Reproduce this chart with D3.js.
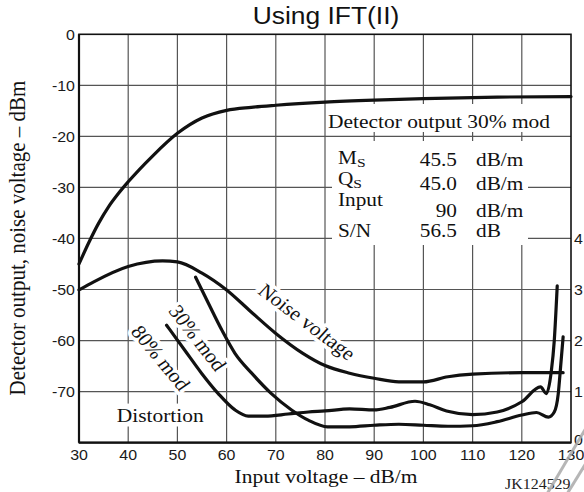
<!DOCTYPE html>
<html>
<head>
<meta charset="utf-8">
<script src="https://cdn.jsdelivr.net/npm/d3@7"></script>
<style>
  html, body { margin: 0; padding: 0; background: #fff; }
  svg { display: block; }
</style>
</head>
<body>
<svg id="chart" width="584" height="492"></svg>
<script>
// ---- data ----
const xTicks = [30, 40, 50, 60, 70, 80, 90, 100, 110, 120, 130];
const yTicks = [0, -10, -20, -30, -40, -50, -60, -70];
const yTickLabels = ["0", "-10", "-20", "-30", "-40", "-50", "-60", "-70"];
const rightTicks = [0, 1, 2, 3, 4];

// Detector output, 30% mod (dBm) vs input voltage (dB/m)
const detectorX = [30, 32, 34, 36, 38, 40, 45, 50, 55, 60, 65, 70, 80, 90, 100, 115, 130];
const detectorY = [-45, -40.8, -37.0, -33.8, -31.2, -28.9, -23.8, -19.4, -16.4, -14.9, -14.3, -13.9, -13.3, -12.9, -12.6, -12.3, -12.2];

// Noise voltage
const noiseX = [30, 33, 40, 47, 50, 55, 60, 65, 70, 75.5, 80, 85, 90, 95, 100, 105, 110, 120, 128.4];
const noiseY = [-50.1, -48.5, -45.5, -44.4, -44.6, -46.8, -50.1, -54.4, -58.6, -62.5, -64.9, -66.4, -67.4, -68.1, -68.1, -67.1, -66.6, -66.3, -66.3];

// Distortion, 80% mod
const mod80X = [47.8, 51.5, 54.9, 58.3, 61.7, 64.4, 67.8, 72.5, 76.6, 80, 85, 90, 93.2, 98.3, 101.3, 104.7, 110, 115, 120, 123.8, 125.0, 126.0, 126.6, 127.2];
const mod80Y = [-57.0, -61.9, -66.4, -70.4, -73.6, -74.8, -74.8, -74.4, -74.0, -73.8, -73.4, -73.6, -73.1, -71.9, -72.6, -73.8, -74.5, -74.0, -72.0, -69.1, -70.4, -66.0, -60.0, -49.3];

// Distortion, 30% mod
const mod30X = [53.7, 56.3, 59, 61.7, 65.1, 69.1, 73.2, 76.6, 80.5, 85, 90, 95, 100, 105, 110, 115, 120, 123, 125.4, 126.6, 127.4, 127.9, 128.4];
const mod30Y = [-47.6, -52.7, -57.9, -62.5, -66.4, -70.4, -73.6, -75.6, -76.9, -76.9, -76.6, -76.4, -76.6, -76.8, -76.7, -75.9, -74.6, -74.1, -75.0, -74.0, -70.5, -65.0, -59.3];

// Operating-point table
const tableLabels = ["M", "Q", "Input", "S/N"];
const tableSubs = ["S", "S", "", ""];
const tableValues = ["45.5", "45.0", "90", "56.5"];
const tableUnits = ["dB/m", "dB/m", "dB/m", "dB"];

// ---- layout ----
const SX = 1.1;                 // horizontal text stretch
const svg = d3.select("#chart");
const x = d3.scaleLinear().domain([30, 130]).range([79, 571]);
const y = d3.scaleLinear().domain([0, -80]).range([34.3, 442.6]);
const yRight = d3.scaleLinear().domain([0, 4]).range([y(-80), y(-40)]);

const serif = "'Liberation Serif', 'Times New Roman', serif";
const sans = "'Liberation Sans', Arial, sans-serif";

function place(sel, px, py, rot, sx) {
  return sel.attr("transform", `translate(${px},${py}) scale(${sx || SX},1)` + (rot ? ` rotate(${rot})` : ""));
}

// ---- grid ----
const grid = svg.append("g").attr("stroke", "#555").attr("stroke-width", 1.2);
grid.selectAll("line.v").data(xTicks.slice(1, -1)).join("line")
  .attr("x1", d => x(d)).attr("x2", d => x(d))
  .attr("y1", y(0)).attr("y2", y(-80));
grid.selectAll("line.h").data(yTicks.slice(1)).join("line")
  .attr("x1", x(30)).attr("x2", x(130))
  .attr("y1", d => y(d)).attr("y2", d => y(d));

// ---- table panel (white backing over the grid) ----
svg.append("rect").attr("x", 327).attr("y", 104).attr("width", x(130) - 327).attr("height", 28).attr("fill", "#fff");
svg.append("rect").attr("x", 332).attr("y", 141).attr("width", 196).attr("height", 104).attr("fill", "#fff");

place(svg.append("text"), 328, 127.5)
  .attr("font-family", serif).attr("font-size", 19.5).attr("fill", "#111")
  .text("Detector output 30% mod");

const tfs = 18.5, tsx = 1.15;
const labelBase = [164, 184.5, 206, 237];
const valueBase = [166, 190, 216.5, 237];
tableLabels.forEach((lab, i) => {
  const t = place(svg.append("text"), 338, labelBase[i], 0, tsx)
    .attr("font-family", serif).attr("font-size", tfs).attr("fill", "#111");
  t.append("tspan").text(lab);
  if (tableSubs[i]) t.append("tspan").attr("font-size", 13.5).attr("dy", 3).text(tableSubs[i]);
  place(svg.append("text"), 457, valueBase[i], 0, tsx)
    .attr("font-family", serif).attr("font-size", tfs).attr("fill", "#111")
    .attr("text-anchor", "end").text(tableValues[i]);
  place(svg.append("text"), 476, valueBase[i], 0, tsx)
    .attr("font-family", serif).attr("font-size", tfs).attr("fill", "#111")
    .text(tableUnits[i]);
});

// ---- curve labels ----
function haloLabel(txt, px, py, rot, sw) {
  return place(svg.append("text"), px, py, rot)
    .attr("font-family", serif).attr("font-size", 19.5).attr("fill", "#111")
    .attr("text-anchor", "middle").attr("dy", "0.33em")
    .attr("stroke", "#fff").attr("stroke-width", sw).attr("stroke-linejoin", "round")
    .attr("paint-order", "stroke")
    .text(txt);
}
haloLabel("Noise voltage", 307, 322, 39.6, 7);
haloLabel("30% mod", 197.5, 338, 54.6, 7);
haloLabel("80% mod", 160.5, 358, 53.1, 7);

// "Distortion" on a white box
const dist = place(svg.append("text"), 116.7, 421.7)
  .attr("font-family", serif).attr("font-size", 19.5).attr("fill", "#111")
  .text("Distortion");
const bb = dist.node().getBBox();
svg.insert("rect", () => dist.node())
  .attr("x", 116.7 + bb.x * SX - 2).attr("y", 421.7 + bb.y - 1)
  .attr("width", bb.width * SX + 4).attr("height", bb.height + 2)
  .attr("fill", "#fff");

// ---- curves ----
const line = d3.line().x(d => x(d[0])).y(d => y(d[1])).curve(d3.curveMonotoneX);
const series = [
  [detectorX, detectorY],
  [noiseX, noiseY],
  [mod80X, mod80Y],
  [mod30X, mod30Y]
];
svg.append("g").selectAll("path").data(series).join("path")
  .attr("d", s => line(d3.zip(s[0], s[1])))
  .attr("fill", "none").attr("stroke", "#111").attr("stroke-width", 3.2)
  .attr("stroke-linecap", "round").attr("stroke-linejoin", "round");

// ---- frame ----
svg.append("rect")
  .attr("x", x(30)).attr("y", y(0))
  .attr("width", x(130) - x(30)).attr("height", y(-80) - y(0))
  .attr("fill", "none").attr("stroke", "#111").attr("stroke-width", 1.6);
svg.append("line").attr("x1", x(30)).attr("x2", x(30)).attr("y1", y(0)).attr("y2", y(-80))
  .attr("stroke", "#111").attr("stroke-width", 2.2);
svg.append("line").attr("x1", x(30)).attr("x2", x(130)).attr("y1", y(-80)).attr("y2", y(-80))
  .attr("stroke", "#111").attr("stroke-width", 2.2);

// ---- tick labels ----
xTicks.forEach(v => {
  place(svg.append("text"), x(v), 460)
    .attr("font-family", sans).attr("font-size", 14.5).attr("fill", "#1a1a1a")
    .attr("text-anchor", "middle").text(v);
});
yTicks.forEach((v, i) => {
  place(svg.append("text"), 75, y(v))
    .attr("font-family", sans).attr("font-size", 14.5).attr("fill", "#1a1a1a")
    .attr("text-anchor", "end").attr("dy", "0.36em").text(yTickLabels[i]);
});
rightTicks.forEach(v => {
  place(svg.append("text"), 574, yRight(v) - (v === 0 ? 3 : 0))
    .attr("font-family", sans).attr("font-size", 14.5).attr("fill", "#1a1a1a")
    .attr("dy", "0.36em").text(v);
});

// ---- titles ----
place(svg.append("text"), 326, 23.5)
  .attr("font-family", sans).attr("font-size", 24).attr("fill", "#111")
  .attr("text-anchor", "middle").text("Using IFT(II)");
place(svg.append("text"), 326, 483)
  .attr("font-family", serif).attr("font-size", 19.5).attr("fill", "#111")
  .attr("text-anchor", "middle").text("Input voltage \u2013 dB/m");
place(svg.append("text"), 24.5, 238, -90)
  .attr("font-family", serif).attr("font-size", 21).attr("fill", "#111")
  .attr("text-anchor", "middle").text("Detector output, noise voltage \u2013 dBm");
place(svg.append("text"), 505, 489)
  .attr("font-family", serif).attr("font-size", 14.5).attr("fill", "#222")
  .text("JK124529");

// ---- corner marks ----
const marks = svg.append("g").attr("stroke", "#aaa").attr("stroke-width", 3).attr("opacity", 0.85);
marks.append("line").attr("x1", 547).attr("y1", 494).attr("x2", 586).attr("y2", 428);
marks.append("line").attr("x1", 567).attr("y1", 494).attr("x2", 588).attr("y2", 460);
</script>
</body>
</html>
